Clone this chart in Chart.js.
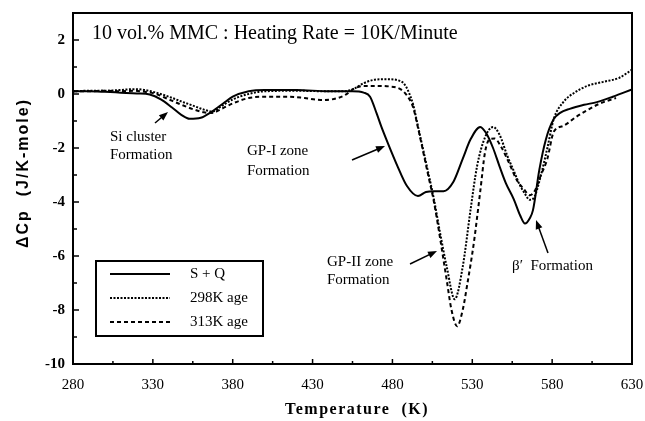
<!DOCTYPE html>
<html>
<head>
<meta charset="utf-8">
<script src="https://cdn.jsdelivr.net/npm/chart.js@4.4.1/dist/chart.umd.min.js"></script>
<style>
  html, body { margin: 0; padding: 0; background: #fff; }
</style>
</head>
<body>
<canvas id="dsc" width="645" height="421"></canvas>
<script>
// temperature (K) and delta Cp (J/K-mole)
const tempSQ = [280, 290, 300, 310, 320, 328, 335, 342, 348, 353, 360, 367, 374, 380, 390, 400, 420, 440, 447, 455,
  462, 466, 470, 473, 477, 483, 489, 496, 501, 506, 512, 518, 524, 529, 535, 539, 543, 547, 551, 556,
  560, 563, 566, 568, 572, 576, 581, 585, 591, 600, 608, 618, 630];
const cpSQ = [0.1, 0.1, 0.08, 0.05, 0.02, -0.02, -0.2, -0.5, -0.78, -0.92, -0.88, -0.65, -0.35, -0.1, 0.1, 0.15, 0.15, 0.1, 0.1, 0.1,
  0.05, -0.1, -0.7, -1.2, -1.8, -2.65, -3.4, -3.78, -3.63, -3.6, -3.6, -3.27, -2.4, -1.67, -1.22, -1.48, -2.0, -2.67, -3.3, -3.9,
  -4.5, -4.8, -4.6, -4.3, -2.8, -1.7, -0.93, -0.7, -0.55, -0.4, -0.3, -0.1, 0.17];

const temp298 = [280, 290, 300, 310, 318, 325, 332, 340, 348, 356, 362, 367, 373, 380, 390, 400, 420, 440, 450, 456,
  462, 468, 476, 484, 487, 490, 493, 496, 502, 506, 510, 514, 519, 524, 529, 533, 538, 543, 547, 552,
  556, 560, 563, 566, 569, 573, 577, 581, 587, 594, 602, 612, 622, 630];
const cp298 = [0.1, 0.12, 0.12, 0.15, 0.18, 0.15, 0.05, -0.1, -0.28, -0.45, -0.58, -0.65, -0.45, -0.2, 0.0, 0.1, 0.12, 0.1, 0.1, 0.2,
  0.4, 0.52, 0.55, 0.5, 0.4, 0.1, -0.4, -1.2, -2.8, -3.9, -5.2, -6.4, -7.6, -6.4, -4.25, -2.67, -1.6, -1.22, -1.5, -2.3,
  -2.85, -3.4, -3.7, -3.92, -3.8, -3.0, -2.0, -0.93, -0.3, 0.05, 0.3, 0.45, 0.6, 0.9];

const temp313 = [280, 290, 300, 310, 318, 325, 332, 340, 348, 356, 362, 367, 373, 380, 390, 400, 415, 425, 435, 442,
  450, 456, 462, 470, 478, 485, 489, 493, 496, 502, 506, 510, 514, 517, 520.5, 524, 527, 531, 535, 538,
  541, 544, 548, 553, 558, 562, 566, 569, 573, 577, 581, 587, 595, 602, 610, 620];
const cp313 = [0.1, 0.1, 0.12, 0.1, 0.12, 0.08, 0.0, -0.2, -0.4, -0.58, -0.68, -0.7, -0.55, -0.35, -0.15, -0.1, -0.1, -0.15, -0.22, -0.2,
  -0.05, 0.2, 0.3, 0.3, 0.28, 0.18, -0.05, -0.5, -1.25, -2.9, -4.0, -5.4, -6.9, -8.0, -8.6, -8.0, -7.0, -5.5, -3.6, -2.15,
  -1.67, -1.65, -1.95, -2.55, -3.2, -3.5, -3.75, -3.6, -3.0, -2.4, -1.4, -1.18, -0.85, -0.6, -0.35, -0.15];

const seriesNames = ['S + Q', '298K age', '313K age'];
const xTicks = [280, 330, 380, 430, 480, 530, 580, 630];
const yTicks = [-10, -8, -6, -4, -2, 0, 2];

const serif = '"Liberation Serif", "Times New Roman", serif';
const sans = '"Liberation Sans", Arial, sans-serif';

function pts(t, v) {
  return t.map((x, i) => ({ x: x, y: v[i] }));
}

function arrow(ctx, x1, y1, x2, y2) {
  const ang = Math.atan2(y2 - y1, x2 - x1);
  ctx.beginPath();
  ctx.moveTo(x1, y1);
  ctx.lineTo(x2 - 5 * Math.cos(ang), y2 - 5 * Math.sin(ang));
  ctx.lineWidth = 1.5;
  ctx.stroke();
  ctx.beginPath();
  ctx.moveTo(x2, y2);
  ctx.lineTo(x2 - 9 * Math.cos(ang) + 3.5 * Math.sin(ang), y2 - 9 * Math.sin(ang) - 3.5 * Math.cos(ang));
  ctx.lineTo(x2 - 9 * Math.cos(ang) - 3.5 * Math.sin(ang), y2 - 9 * Math.sin(ang) + 3.5 * Math.cos(ang));
  ctx.closePath();
  ctx.fill();
}

// frame, inward ticks, titles, notes and the boxed legend
const extras = {
  id: 'extras',
  afterDraw(chart) {
    const { ctx, chartArea: a, scales: { x, y } } = chart;
    ctx.save();
    ctx.strokeStyle = '#000';
    ctx.fillStyle = '#000';
    ctx.lineWidth = 2;
    ctx.strokeRect(a.left, a.top, a.right - a.left, a.bottom - a.top);

    ctx.lineWidth = 1.5;
    for (let t = x.min; t <= x.max; t += 25) {
      const px = x.getPixelForValue(t);
      const len = (t - x.min) % 50 === 0 ? 5 : 3;
      ctx.beginPath(); ctx.moveTo(px, a.bottom); ctx.lineTo(px, a.bottom - len); ctx.stroke();
    }
    for (let v = y.min; v < y.max; v += 1) {
      const py = y.getPixelForValue(v);
      const len = v % 2 === 0 ? 6 : 4;
      ctx.beginPath(); ctx.moveTo(a.left, py); ctx.lineTo(a.left + len, py); ctx.stroke();
    }

    // axis titles
    ctx.save();
    ctx.translate(24, 173);
    ctx.rotate(-Math.PI / 2);
    ctx.font = 'bold 16px ' + sans;
    ctx.letterSpacing = '2px';
    ctx.textAlign = 'center';
    ctx.textBaseline = 'middle';
    ctx.fillText('\u0394Cp  (J/K-mole)', 0, 0);
    ctx.restore();

    ctx.save();
    ctx.font = 'bold 16px ' + serif;
    ctx.letterSpacing = '1.5px';
    ctx.textAlign = 'center';
    ctx.textBaseline = 'middle';
    ctx.fillText('Temperature  (K)', 357, 410);
    ctx.restore();

    // notes
    ctx.textBaseline = 'middle';
    ctx.textAlign = 'left';
    ctx.font = '20px ' + serif;
    ctx.fillText('10 vol.% MMC : Heating Rate = 10K/Minute', 92, 34);
    ctx.font = '15px ' + serif;
    ctx.fillText('Si cluster', 110, 137);
    ctx.fillText('Formation', 110, 155);
    ctx.fillText('GP-I zone', 247, 151);
    ctx.fillText('Formation', 247, 171);
    ctx.fillText('GP-II zone', 327, 262);
    ctx.fillText('Formation', 327, 280);
    ctx.fillText('\u03b2\u2032  Formation', 512, 266);
    arrow(ctx, 155, 123, 168, 112);
    arrow(ctx, 352, 160, 385, 146);
    arrow(ctx, 410, 264, 437, 251);
    arrow(ctx, 548, 253, 536, 220);

    // legend
    ctx.lineWidth = 2;
    ctx.strokeRect(96, 261, 167, 75);
    chart.data.datasets.forEach((ds, i) => {
      const ly = 274 + i * 24;
      ctx.save();
      ctx.lineWidth = ds.borderWidth;
      ctx.setLineDash(ds.borderDash || []);
      ctx.beginPath(); ctx.moveTo(110, ly); ctx.lineTo(170, ly); ctx.stroke();
      ctx.restore();
      ctx.font = '15px ' + serif;
      ctx.fillText(ds.label, 190, ly);
    });
    ctx.restore();
  }
};

const data = {
  datasets: [
    { label: seriesNames[0], data: pts(tempSQ, cpSQ), borderColor: '#000', borderWidth: 2 },
    { label: seriesNames[1], data: pts(temp298, cp298), borderColor: '#000', borderWidth: 2, borderDash: [2, 1.5] },
    { label: seriesNames[2], data: pts(temp313, cp313), borderColor: '#000', borderWidth: 2, borderDash: [4, 3] }
  ]
};

const config = {
  type: 'line',
  data: data,
  options: {
    responsive: false,
    animation: false,
    elements: { point: { radius: 0 }, line: { cubicInterpolationMode: 'monotone' } },
    layout: { padding: { left: 0, top: 13, right: 13, bottom: 0 } },
    plugins: { legend: { display: false }, tooltip: { enabled: false } },
    scales: {
      x: {
        type: 'linear', min: 280, max: 630,
        afterBuildTicks: s => { s.ticks = xTicks.map(v => ({ value: v })); },
        afterFit: s => { s.height = 57; s.paddingLeft = 0; s.paddingRight = 0; },
        grid: { display: false, drawTicks: false },
        border: { display: false },
        ticks: { padding: 12, color: '#000', font: { family: serif, size: 15 } }
      },
      y: {
        type: 'linear', min: -10, max: 3,
        afterBuildTicks: s => { s.ticks = yTicks.map(v => ({ value: v })); },
        afterFit: s => { s.width = 73; s.paddingTop = 0; s.paddingBottom = 0; },
        grid: { display: false, drawTicks: false },
        border: { display: false },
        ticks: { padding: 8, color: '#000', font: { family: serif, size: 15, weight: 'bold' } }
      }
    }
  },
  plugins: [extras]
};

const dscChart = new Chart(document.getElementById('dsc'), config);
</script>
</body>
</html>
